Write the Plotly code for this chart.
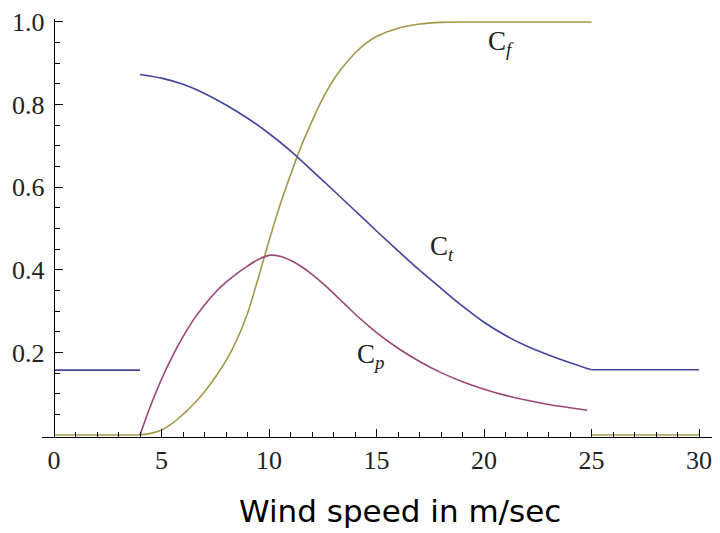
import plotly.graph_objects as go

# ---- data ----
wind_ct = [0, 4, None, 4, 5, 6, 7, 8, 9, 10, 11, 12, 13, 14, 15, 16, 17, 18, 19, 20, 21, 22, 23, 24, 25, None, 25, 30]
ct_vals = [0.157, 0.157, None, 0.873, 0.864, 0.849, 0.827, 0.799, 0.767, 0.730, 0.688, 0.640, 0.592, 0.543,
           0.494, 0.446, 0.399, 0.355, 0.312, 0.273, 0.241, 0.215, 0.194, 0.175, 0.158, None, 0.158, 0.158]

wind_cp = [4, 4.5, 5, 5.5, 6, 6.5, 7, 7.5, 8, 8.5, 9, 9.5, 10, 10.5, 11, 11.5, 12, 12.5, 13,
           13.5, 14, 14.5, 15, 16, 17, 18, 19, 20, 21, 22, 23, 24, 24.8]
cp_vals = [0.0, 0.072, 0.135, 0.19, 0.238, 0.28, 0.315, 0.345, 0.37, 0.391, 0.409, 0.425, 0.435,
           0.433, 0.423, 0.408, 0.389, 0.367, 0.343, 0.318, 0.293, 0.27, 0.248, 0.21, 0.178, 0.151, 0.129,
           0.111, 0.096, 0.084, 0.074, 0.066, 0.06]

wind_cf = [0, 4, None, 4, 4.5, 5, 5.5, 6, 6.5, 7, 7.5, 8, 8.5, 9, 9.5, 10, 10.5, 11, 11.5, 12, 12.5, 13, 13.5,
           14, 14.5, 15, 16, 17, 18, 19, 20, 25, None, 25, 30]
cf_vals = [0.0, 0.0, None, 0.0, 0.004, 0.012, 0.028, 0.05, 0.075, 0.105, 0.14, 0.18, 0.23, 0.295, 0.38, 0.47,
           0.555, 0.63, 0.70, 0.76, 0.815, 0.86, 0.895, 0.925, 0.948, 0.965, 0.985, 0.995, 0.999, 1.0, 1.0, 1.0,
           None, 0.0, 0.0]

x_ticks = [0, 5, 10, 15, 20, 25, 30]
y_ticks = [0.2, 0.4, 0.6, 0.8, 1.0]
y_ticktext = ["0.2", "0.4", "0.6", "0.8", "1.0"]

labels = [("C<sub><i>f</i></sub>", 20.09, 0.95),
          ("C<sub><i>t</i></sub>", 17.4, 0.452),
          ("C<sub><i>p</i></sub>", 14.0, 0.192)]

col_ct = "#4444a0"
col_cp = "#9c4676"
col_cf = "#a39848"

serif = "Liberation Serif, Times New Roman, serif"

# ---- figure ----
fig = go.Figure()
fig.add_trace(go.Scatter(x=wind_cf, y=cf_vals, mode="lines", line=dict(color=col_cf, width=1.6, shape="spline", smoothing=1),
                         showlegend=False, hoverinfo="skip"))
fig.add_trace(go.Scatter(x=wind_cp, y=cp_vals, mode="lines", line=dict(color=col_cp, width=1.6, shape="spline", smoothing=1),
                         showlegend=False, hoverinfo="skip"))
fig.add_trace(go.Scatter(x=wind_ct, y=ct_vals, mode="lines", line=dict(color=col_ct, width=1.6, shape="spline", smoothing=1),
                         showlegend=False, hoverinfo="skip"))

x_lo, x_hi = -0.558, 30.6
tick_font = dict(family=serif, size=26, color="#222222")

fig.update_layout(
    width=720, height=533,
    margin=dict(l=42, r=8, t=16, b=96),
    paper_bgcolor="white", plot_bgcolor="white",
    font=dict(family=serif, size=26, color="#222222"),
    xaxis=dict(range=[x_lo, x_hi], showgrid=False, zeroline=False, showline=True, linecolor="black", linewidth=1.4,
               tickmode="array", tickvals=x_ticks, ticks="inside", ticklen=8, tickwidth=1.2, tickcolor="black",
               tickfont=tick_font,
               minor=dict(tickmode="array", tickvals=[v for v in range(0, 31) if v % 5], ticks="inside",
                          ticklen=5, tickwidth=1.1, tickcolor="black")),
    yaxis=dict(range=[-0.0048, 1.0072], showgrid=False, zeroline=False, showline=True, linecolor="black", linewidth=1.4,
               anchor="free", position=(0 - x_lo) / (x_hi - x_lo), side="left",
               tickmode="array", tickvals=y_ticks, ticktext=y_ticktext, ticks="inside", ticklen=8, tickwidth=1.2,
               tickcolor="black", tickfont=tick_font, ticklabelstandoff=4,
               minor=dict(tickmode="array", tickvals=[0.05, 0.1, 0.15, 0.25, 0.3, 0.35, 0.45, 0.5, 0.55, 0.65, 0.7, 0.75, 0.85, 0.9, 0.95],
                          ticks="inside", ticklen=5, tickwidth=1.1, tickcolor="black")),
)

for txt, lx, ly in labels:
    fig.add_annotation(x=lx, y=ly, xref="x", yref="y", text=txt, showarrow=False, xanchor="left", yanchor="middle",
                       font=dict(family=serif, size=27, color="#222222"))

fig.add_annotation(x=(400 - 42) / 670, y=-0.176, xref="paper", yref="paper", text="Wind speed in m/sec",
                   showarrow=False, xanchor="center", yanchor="middle",
                   font=dict(family="DejaVu Sans", size=31, color="black"))

fig.write_html("out.html")
